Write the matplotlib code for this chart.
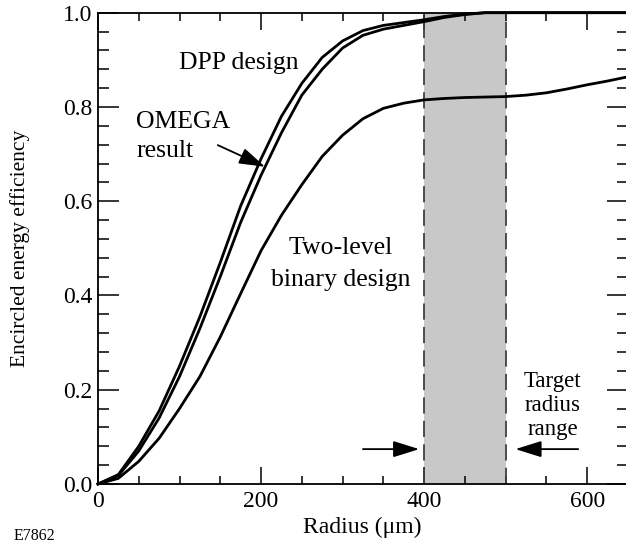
import numpy as np
import matplotlib
matplotlib.use("Agg")
import matplotlib.pyplot as plt
from matplotlib.ticker import MultipleLocator

plt.rcParams['font.family'] = ['Liberation Serif', 'DejaVu Serif']

# radius grid (um) and encircled energy
radius = [0, 25, 50, 75, 100, 125, 150, 175, 200, 225, 250, 275, 300, 325,
          350, 375, 400, 425, 450, 475, 500, 525, 550, 575, 600, 625, 650]
dpp = [0, 0.02, 0.08, 0.155, 0.25, 0.355, 0.47, 0.59, 0.69, 0.78, 0.85,
       0.905, 0.94, 0.962, 0.973, 0.979, 0.985, 0.992, 0.997, 1.0, 1.0,
       1.0, 1.0, 1.0, 1.0, 1.0, 1.0]
omega = [0, 0.018, 0.07, 0.14, 0.228, 0.33, 0.44, 0.555, 0.655, 0.745,
         0.825, 0.88, 0.925, 0.952, 0.965, 0.973, 0.981, 0.99, 0.996, 1.0,
         1.0, 1.0, 1.0, 1.0, 1.0, 1.0, 1.0]
binary = [0, 0.012, 0.048, 0.097, 0.16, 0.228, 0.312, 0.404, 0.495, 0.57,
          0.635, 0.695, 0.74, 0.775, 0.797, 0.808, 0.815, 0.818, 0.82,
          0.821, 0.822, 0.825, 0.83, 0.838, 0.847, 0.855, 0.864]
target = [400, 500]

fig = plt.figure(figsize=(6.26, 5.49), dpi=100)
ax = fig.add_axes([0.1565, 0.1184, 0.8466, 0.8585])

ax.axvspan(target[0], target[1], color='#c8c8c8', lw=0, zorder=1)
for xv in target:
    ax.axvline(xv, color='#404040', lw=1.3, dashes=(9, 4), zorder=2)

for ys in (dpp, omega, binary):
    ax.plot(radius, ys, color='black', lw=2.0, clip_on=False, zorder=3)

ax.set_xlim(0, 650)
ax.set_ylim(0, 1.0)
ax.xaxis.set_major_locator(MultipleLocator(200))
ax.xaxis.set_minor_locator(MultipleLocator(50))
ax.yaxis.set_major_locator(MultipleLocator(0.2))
ax.yaxis.set_minor_locator(MultipleLocator(0.04))
ax.yaxis.set_major_formatter(plt.FormatStrFormatter('%.1f'))

ax.tick_params(axis='both', which='both', direction='in', top=True, right=True,
               width=1.1, labelsize=17)
ax.tick_params(axis='x', which='major', length=12, pad=5)
ax.tick_params(axis='x', which='minor', length=6)
ax.tick_params(axis='y', which='major', length=15, pad=4)
ax.tick_params(axis='y', which='minor', length=8)
for s in ax.spines.values():
    s.set_linewidth(1.3)

ax.set_xlabel('Radius (μm)', fontsize=17)
ax.xaxis.set_label_coords(0.498, -0.07)
ax.set_ylabel('Encircled energy efficiency', fontsize=15.5)
ax.yaxis.set_label_coords(-0.128, 0.5)

ax.text(173, 0.881, 'DPP design', fontsize=18.5, ha='center', va='baseline')
ax.text(47, 0.755, 'OMEGA', fontsize=18.5, ha='left', va='baseline')
ax.text(47, 0.694, 'result', fontsize=18.5, ha='left', va='baseline')
ax.text(298, 0.488, 'Two-level', fontsize=18.5, ha='center', va='baseline')
ax.text(298, 0.42, 'binary design', fontsize=18.5, ha='center', va='baseline')
ax.text(558, 0.206, 'Target', fontsize=16.5, ha='center', va='baseline')
ax.text(558, 0.155, 'radius', fontsize=16.5, ha='center', va='baseline')
ax.text(558, 0.104, 'range', fontsize=16.5, ha='center', va='baseline')

arrow = dict(arrowstyle='-|>,head_length=1.6,head_width=0.5', color='black',
             lw=1.3, mutation_scale=10, shrinkA=0, shrinkB=0)
ax.annotate('', xy=(205, 0.673), xytext=(147, 0.719), arrowprops=arrow)
ax.annotate('', xy=(394, 0.074), xytext=(325, 0.074), arrowprops=arrow)
ax.annotate('', xy=(512, 0.074), xytext=(589, 0.074), arrowprops=arrow)

fig.text(14 / 626, 1 - 536 / 549, 'E7862', fontsize=11.5, ha='left', va='center')

fig.savefig('out.png', dpi=100)
